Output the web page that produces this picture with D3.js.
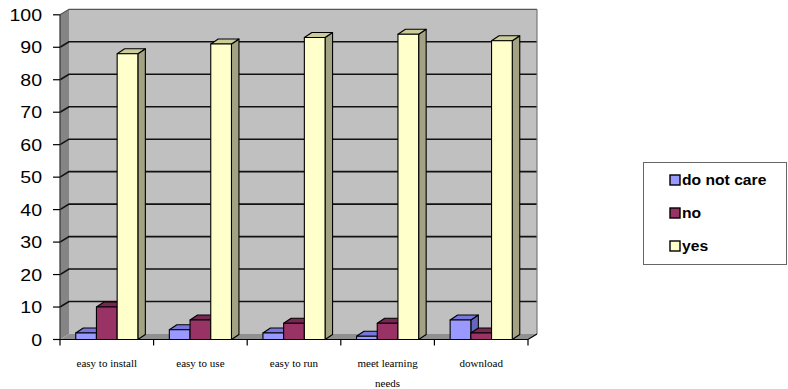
<!DOCTYPE html>
<html><head><meta charset="utf-8">
<script src="https://cdn.jsdelivr.net/npm/d3@7"></script>
<style>body{margin:0;background:#fff}svg{display:block}
.sans{font-family:"Liberation Sans",Arial,sans-serif}
.serif{font-family:"Liberation Serif","Times New Roman",serif}</style>
</head><body>
<svg id="c" width="788" height="389"></svg>
<script>
const categories = ["easy to install","easy to use","easy to run","meet learning needs","download"];
const categoryLines = [["easy to install"],["easy to use"],["easy to run"],["meet learning","needs"],["download"]];
const seriesNames = ["do not care","no","yes"];
const doNotCare = [2,3,2,1,6];
const no = [10,6,5,5,2];
const yes = [88,91,93,94,92];
const yTicks = [0,10,20,30,40,50,60,70,80,90,100];

const seriesVals = [doNotCare,no,yes];
const colors = [
  {front:"#9999FF", top:"#7777DD", side:"#6666BB"},
  {front:"#993366", top:"#772850", side:"#6B2247"},
  {front:"#FFFFCC", top:"#CCCC99", side:"#A3A383"}
];

const svg = d3.select("#c");
const x0 = 60, x1 = 528, DX = 9, DY = -5.5;
const x = d3.scaleBand().domain(categories).range([x0,x1]);
const xs = d3.scaleBand().domain(seriesNames).range([0,x.bandwidth()]).paddingInner(0).paddingOuter(0.76);
const y = d3.scaleLinear().domain([0,100]).range([339.5,14.8]);

const pts = a => a.map(p=>p.join(",")).join(" ");
svg.append("polygon").attr("points",pts([[x0,y(0)],[x0+DX,y(0)+DY],[x0+DX,y(100)+DY],[x0,y(100)]])).attr("fill","#858585");
svg.append("rect").attr("x",x0+DX).attr("y",y(100)+DY).attr("width",x1-x0).attr("height",y(0)-y(100)).attr("fill","#C0C0C0");
svg.append("polygon").attr("points",pts([[x0,y(0)],[x1,y(0)],[x1+DX,y(0)+DY],[x0+DX,y(0)+DY]])).attr("fill","#909090");
yTicks.forEach(t=>{
  if(t===0) return;
  svg.append("polyline").attr("points",pts([[x0,y(t)],[x0+DX,y(t)+DY],[x1+DX,y(t)+DY]]))
    .attr("fill","none").attr("stroke",t===100?"#555":"#111").attr("stroke-width",t===100?1.2:1.6);
});
svg.append("line").attr("x1",x1+DX).attr("x2",x1+DX).attr("y1",y(100)+DY).attr("y2",y(0)+DY).attr("stroke","#777").attr("stroke-width",1.2);
svg.append("polyline").attr("points",pts([[x0,y(0)],[x1,y(0)],[x1+DX,y(0)+DY]])).attr("fill","none").attr("stroke","#000").attr("stroke-width",1.2);
svg.append("line").attr("x1",x0).attr("x2",x0).attr("y1",y(100)).attr("y2",y(0)).attr("stroke","#333").attr("stroke-width",1.2);

const ya = svg.append("g");
yTicks.forEach(t=>{
  ya.append("line").attr("x1",x0-7).attr("x2",x0).attr("y1",y(t)).attr("y2",y(t)).attr("stroke","#000").attr("stroke-width",1.2);
  ya.append("text").attr("class","sans").attr("transform",`translate(42,${y(t)+6}) scale(1.15,1)`).attr("text-anchor","end")
    .attr("font-size",17).attr("fill","#000").text(t);
});
const xt = [...categories.map(c=>x(c)), x1];
xt.forEach(v=>svg.append("line").attr("x1",v).attr("x2",v).attr("y1",y(0)).attr("y2",y(0)+6).attr("stroke","#000").attr("stroke-width",1.2));
categories.forEach((c,i)=>{
  categoryLines[i].forEach((ln,j)=>{
    svg.append("text").attr("class","serif").attr("x",x(c)+x.bandwidth()/2).attr("y",367+j*20).attr("text-anchor","middle")
      .attr("font-size",11).attr("fill","#000").text(ln);
  });
});

const bdx = 7.5, bdy = -5;
const bars = svg.append("g").attr("stroke","#000").attr("stroke-width",1.1).attr("stroke-linejoin","round");
categories.forEach((c,i)=>{
  seriesNames.forEach((s,k)=>{
    const v = seriesVals[k][i];
    const bx = x(c)+xs(s), bw = xs.bandwidth();
    const yt = y(v), yb = y(0);
    const col = colors[k];
    bars.append("polygon").attr("points",pts([[bx+bw,yt],[bx+bw+bdx,yt+bdy],[bx+bw+bdx,yb+bdy],[bx+bw,yb]])).attr("fill",col.side);
    bars.append("polygon").attr("points",pts([[bx,yt],[bx+bw,yt],[bx+bw+bdx,yt+bdy],[bx+bdx,yt+bdy]])).attr("fill",col.top);
    bars.append("rect").attr("x",bx).attr("y",yt).attr("width",bw).attr("height",yb-yt).attr("fill",col.front);
  });
});

const lg = svg.append("g");
lg.append("rect").attr("x",643.5).attr("y",162.5).attr("width",143).attr("height",102).attr("fill","#fff").attr("stroke","#666").attr("stroke-width",1);
const ly = [185,218,251];
seriesNames.forEach((s,k)=>{
  lg.append("rect").attr("x",670).attr("y",ly[k]-10).attr("width",10).attr("height",10).attr("fill",colors[k].front).attr("stroke","#000").attr("stroke-width",1.4);
  lg.append("text").attr("class","sans").attr("transform",`translate(682,${ly[k]}) scale(1.08,1)`).attr("font-weight","bold").attr("font-size",14.5).attr("fill","#000").text(s);
});
</script>
</body></html>
